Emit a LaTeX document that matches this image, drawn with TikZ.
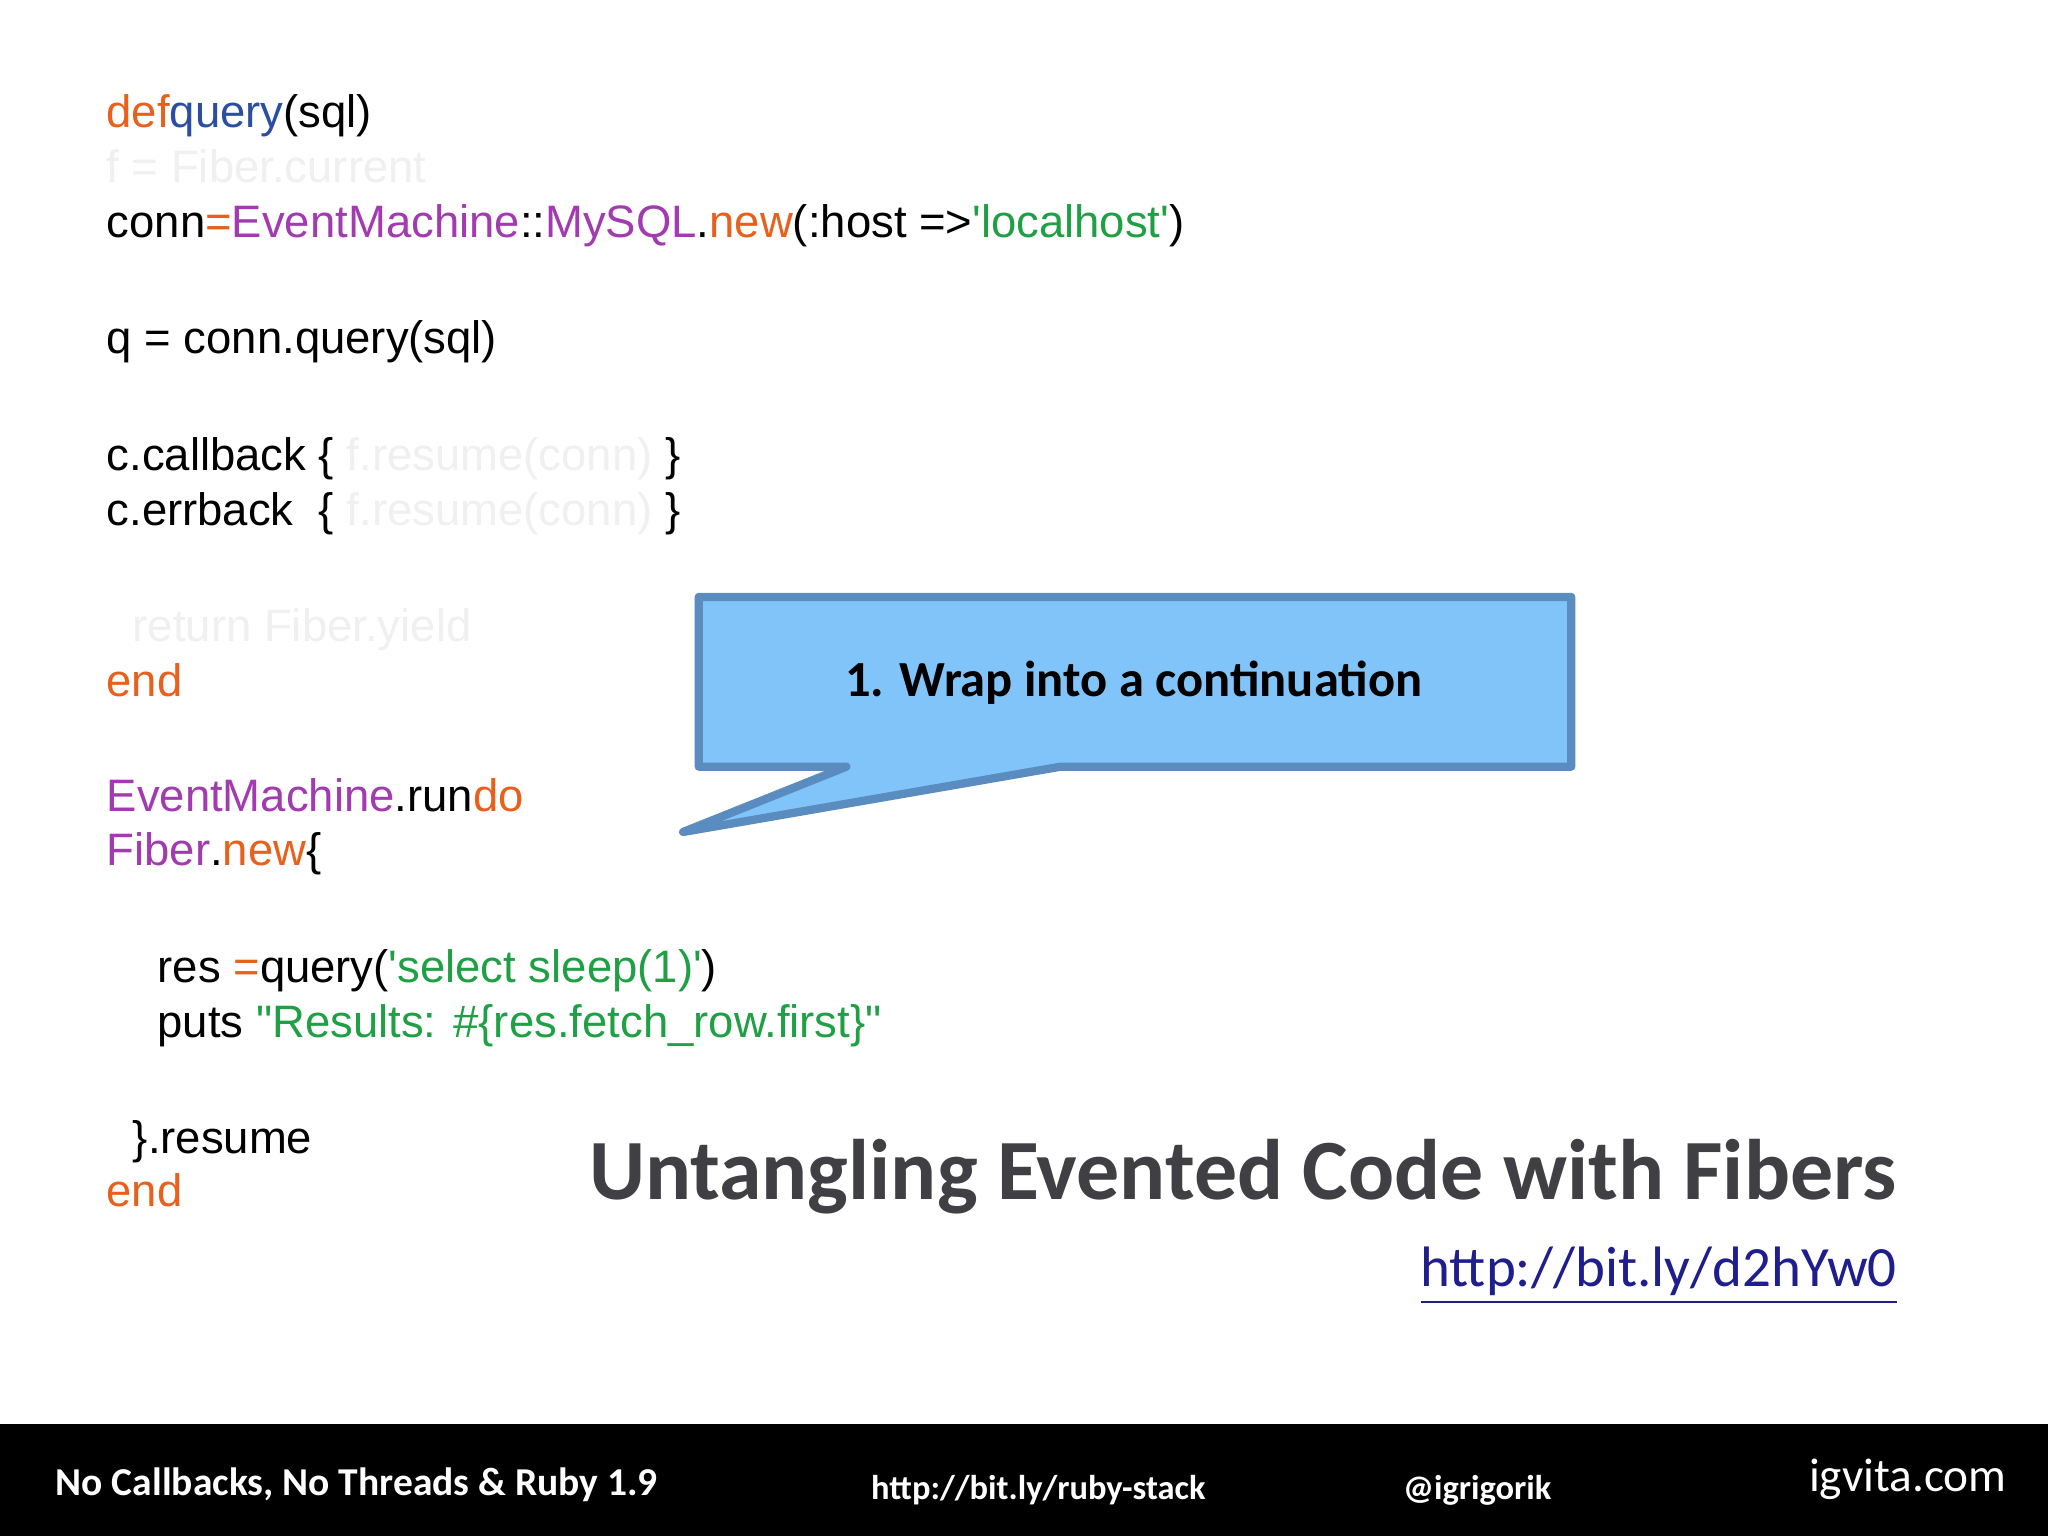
\documentclass[tikz,border=0pt]{standalone}
\usepackage{fontspec}
\setmainfont{Liberation Sans}[Ligatures=NoCommon]
\newfontfamily\carlitofont{Carlito}
\newcommand{\sq}{\textquotesingle}
\newcommand{\dq}{\textquotedbl}
\definecolor{kw}{HTML}{E8601C}
\definecolor{fn}{HTML}{2B4EA2}
\definecolor{cl}{HTML}{A23BB0}
\definecolor{st}{HTML}{1FA045}
\definecolor{fd}{HTML}{F0F0F0}
\definecolor{cfill}{HTML}{80C4FA}
\definecolor{cedge}{HTML}{5A8CC0}
\begin{document}
\begin{tikzpicture}[x=0.01cm,y=-0.01cm,
 code/.style={anchor=base west,inner sep=0,font=\fontsize{9.9}{12}\selectfont},
 foot/.style={text=white,inner sep=0,font=\carlitofont\bfseries\fontsize{7.5}{9}\selectfont}]
\useasboundingbox (0,0) rectangle (1568,1176);
\fill[white] (0,0) rectangle (1568,1176);
\node[code] (l1) at (81,98) {\textcolor{kw}{def}\textcolor{fn}{query}(sql)};
\node[code,text=fd] (l2) at (81,140) {f = Fiber.current};
\node[code] (l3) at (81,182) {conn\textcolor{kw}{=}\textcolor{cl}{EventMachine}::\textcolor{cl}{MySQL}.\textcolor{kw}{new}(:host =>\textcolor{st}{\sq localhost\sq})};
\node[code] (l4) at (81,271) {q = conn.query(sql)};
\node[code] (l5) at (81,360) {c.callback \{ \textcolor{fd}{f.resume(conn)} \}};
\node[code] (l6) at (81,402) {c.errback~~\{ \textcolor{fd}{f.resume(conn)} \}};
\node[code,text=fd] (l7) at (101,491) {return Fiber.yield};
\node[code,text=kw] (l8) at (81,533) {end};
\node[code] (l9) at (81,621) {\textcolor{cl}{EventMachine}.run\textcolor{kw}{do}};
\node[code] (l10) at (81,663) {\textcolor{cl}{Fiber}.\textcolor{kw}{new}\{};
\node[code] (l11) at (120,752) {res \textcolor{kw}{=}query(\textcolor{st}{\sq select sleep(1)\sq})};
\node[code] (l12) at (120,794) {puts \textcolor{st}{\dq Results: \#\{res.fetch\_row.first\}\dq}};
\node[code] (l13) at (101,883) {\}.resume};
\node[code,text=kw] (l14) at (81,924) {end};
\draw[cedge,line width=1.8pt,fill=cfill,line join=round]
 (535,457) -- (1203,457) -- (1203,587) -- (812,587) -- (523,637) -- (648,587) -- (535,587) -- cycle;
\node[font=\carlitofont\bfseries\fontsize{11}{13}\selectfont,inner sep=0] (call) at (868,523) {1. Wrap into a continuation};
\node[anchor=base east,inner sep=0,text={rgb,255:red,64;green,64;blue,68},font=\carlitofont\bfseries\fontsize{18.7}{22}\selectfont] (title) at (1453,918) {Untangling Evented Code with Fibers};
\node[anchor=base east,inner sep=0,text={rgb,255:red,30;green,30;blue,140},font=\carlitofont\fontsize{12.4}{15}\selectfont] (link) at (1453,985) {\underline{http://bit.ly/d2hYw0}};
\fill[black] (0,1090) rectangle (1568,1176);
\node[foot,anchor=base west,font=\carlitofont\bfseries\fontsize{8.6}{10}\selectfont] (f1) at (42,1145) {No Callbacks, No Threads \& Ruby 1.9};
\node[foot,anchor=base] (f2) at (795,1148) {http://bit.ly/ruby-stack};
\node[foot,anchor=base] (f3) at (1131,1148) {@igrigorik};
\node[text=white,inner sep=0,anchor=base east,font=\carlitofont\fontsize{10.3}{12}\selectfont] (f4) at (1537,1142) {igvita.com};
\end{tikzpicture}
\end{document}
